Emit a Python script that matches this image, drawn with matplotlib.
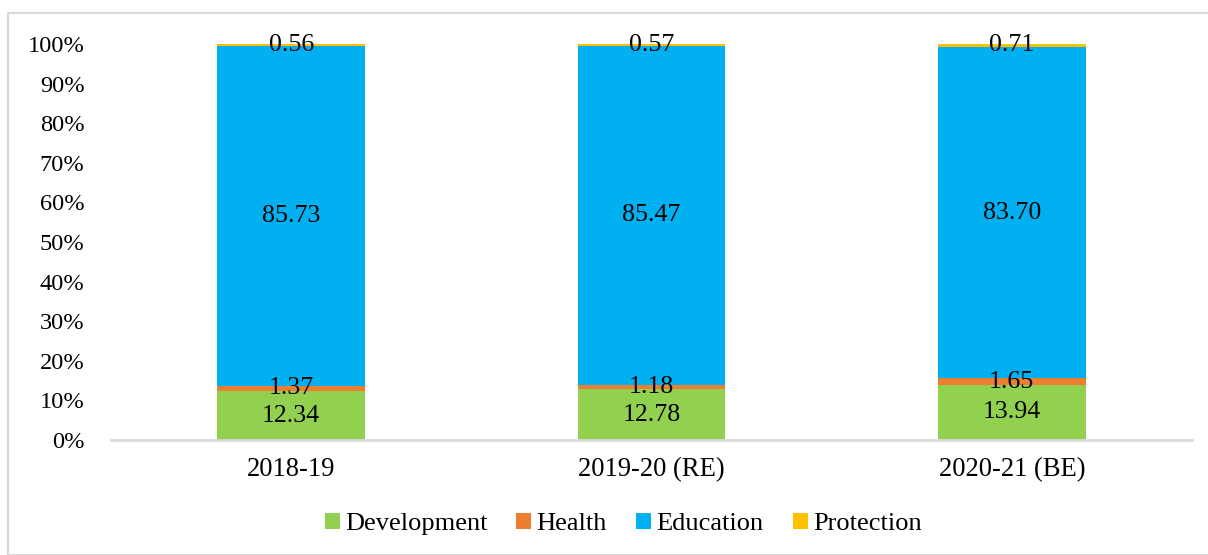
import matplotlib
matplotlib.use("Agg")
import matplotlib.pyplot as plt
import numpy as np
from matplotlib.patches import Rectangle
from matplotlib.ticker import PercentFormatter

# data (share of total, %)
years = ["2018-19", "2019-20 (RE)", "2020-21 (BE)"]
development = [12.34, 12.78, 13.94]
health = [1.37, 1.18, 1.65]
education = [85.73, 85.47, 83.70]
protection = [0.56, 0.57, 0.71]

series = [
    ("Development", development, "#92D050"),
    ("Health", health, "#ED7D31"),
    ("Education", education, "#00B0F0"),
    ("Protection", protection, "#FFC000"),
]

plt.rcParams["font.family"] = ["Liberation Serif", "DejaVu Serif"]

fig = plt.figure(figsize=(12.08, 5.55), dpi=100)
ax = fig.add_axes([111 / 1208, 115 / 555, 1081 / 1208, 396 / 555])

# light grey frame round the whole chart
fig.patches.append(Rectangle((8 / 1208, 0), 1.2, 542 / 555, transform=fig.transFigure,
                             fill=False, edgecolor="#d9d9d9", linewidth=1.5))

x = np.arange(len(years))
bottom = np.zeros(len(years))
for name, vals, col in series:
    bars = ax.bar(x, vals, width=0.41, bottom=bottom, color=col, label=name)
    ax.bar_label(bars, labels=["%.2f" % v for v in vals], label_type="center", fontsize=18.6)
    bottom += np.array(vals)

ax.set_xlim(-0.5, 2.5)
ax.set_ylim(0, 100)
ax.set_yticks(np.arange(0, 101, 10))
ax.yaxis.set_major_formatter(PercentFormatter(decimals=0))
ax.set_xticks(x)
ax.set_xticklabels(years)
ax.tick_params(axis="y", length=0, pad=19, labelsize=17.6)
ax.tick_params(axis="x", length=0, pad=12, labelsize=19.2)

for s in ["top", "right", "left"]:
    ax.spines[s].set_visible(False)
ax.spines["bottom"].set_color("#d9d9d9")
ax.spines["bottom"].set_linewidth(2)

ax.legend(loc="center", bbox_to_anchor=(623 / 1208, 31 / 555), bbox_transform=fig.transFigure,
          ncol=4, frameon=False, fontsize=19, handlelength=0.57, handleheight=0.57,
          handletextpad=0.2, columnspacing=1.1, borderpad=0)

fig.savefig("out.png", dpi=100)
